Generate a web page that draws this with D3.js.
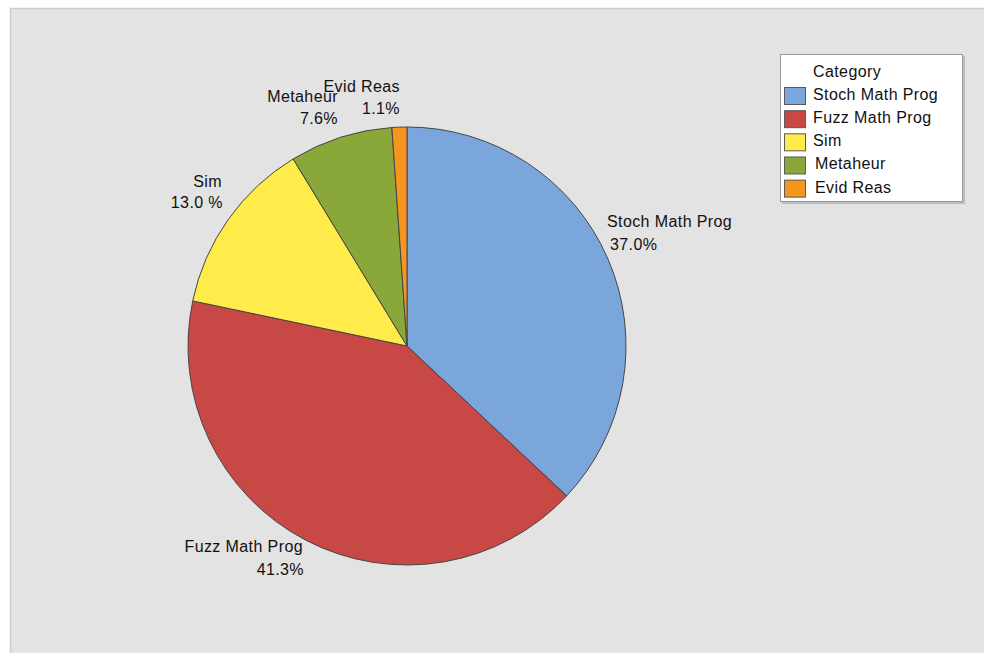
<!DOCTYPE html>
<html><head><meta charset="utf-8">
<script src="https://cdn.jsdelivr.net/npm/d3@7"></script>
<style>body{margin:0;background:#fff}svg{display:block}text{font-family:"Liberation Sans",Arial,sans-serif;fill:#111;letter-spacing:0.4px}</style>
</head><body><svg id="c" width="984" height="653"></svg>
<script>
const categories = ["Stoch Math Prog","Fuzz Math Prog","Sim","Metaheur","Evid Reas"];
const values = [37.0, 41.3, 13.0, 7.6, 1.1];
const pctLabels = ["37.0%","41.3%","13.0 %","7.6%","1.1%"];
const colors = ["#7ba6db","#c84846","#ffeb4a","#8aa83a","#f7961e"];

const svg = d3.select("#c");
svg.append("rect").attr("x",10.5).attr("y",8.5).attr("width",990).attr("height",660)
  .attr("fill","#e3e3e3").attr("stroke","#cdcdcd").attr("stroke-width",1.5);

const cx = 407, cy = 346, r = 219;
const data = categories.map((c,i)=>({cat:c,v:values[i],pct:pctLabels[i],col:colors[i]}));
const pie = d3.pie().value(d=>d.v).sort(null);
const arcs = pie(data);
const arc = d3.arc().innerRadius(0).outerRadius(r);
const g = svg.append("g").attr("transform",`translate(${cx},${cy})`);
g.selectAll("path").data(arcs).join("path")
  .attr("d",arc).attr("fill",d=>d.data.col).attr("stroke","#454545").attr("stroke-width",1);

// label placement (layout only)
const labelPos = [
  {anchor:"start", x1:607, x2:610, y1:227, y2:250},
  {anchor:"end", x1:303, x2:304, y1:552, y2:575},
  {anchor:"end", x1:222, x2:223, y1:187, y2:208},
  {anchor:"end", x1:338, x2:338, y1:102, y2:124},
  {anchor:"end", x1:400, x2:400, y1:92, y2:114}
];
const lab = svg.append("g");
arcs.forEach((a,i)=>{
  const p = labelPos[i];
  lab.append("text").attr("x",p.x1).attr("y",p.y1).attr("text-anchor",p.anchor)
    .attr("font-size",16).text(a.data.cat);
  lab.append("text").attr("x",p.x2).attr("y",p.y2).attr("text-anchor",p.anchor)
    .attr("font-size",16).text(a.data.pct);
});

// legend
const lg = svg.append("g");
lg.append("rect").attr("x",782).attr("y",56).attr("width",183).attr("height",148).attr("fill","#bdbdbd");
lg.append("rect").attr("x",780.5).attr("y",54.5).attr("width",182).attr("height",147).attr("fill","#fff").attr("stroke","#9a9a9a");
lg.append("text").attr("x",813).attr("y",77).attr("font-size",16).text("Category");
const ly = d3.scaleBand().domain(categories).range([87,197]).paddingInner(0.25).paddingOuter(0);
categories.forEach((c,i)=>{
  const y = ly(c);
  lg.append("rect").attr("x",784.5).attr("y",y+0.5).attr("width",21).attr("height",17)
    .attr("fill",colors[i]).attr("stroke","#5a5a5a");
  lg.append("text").attr("x",813 + (i>=3?2:0)).attr("y",y+13).attr("font-size",16).text(c);
});
</script></body></html>
